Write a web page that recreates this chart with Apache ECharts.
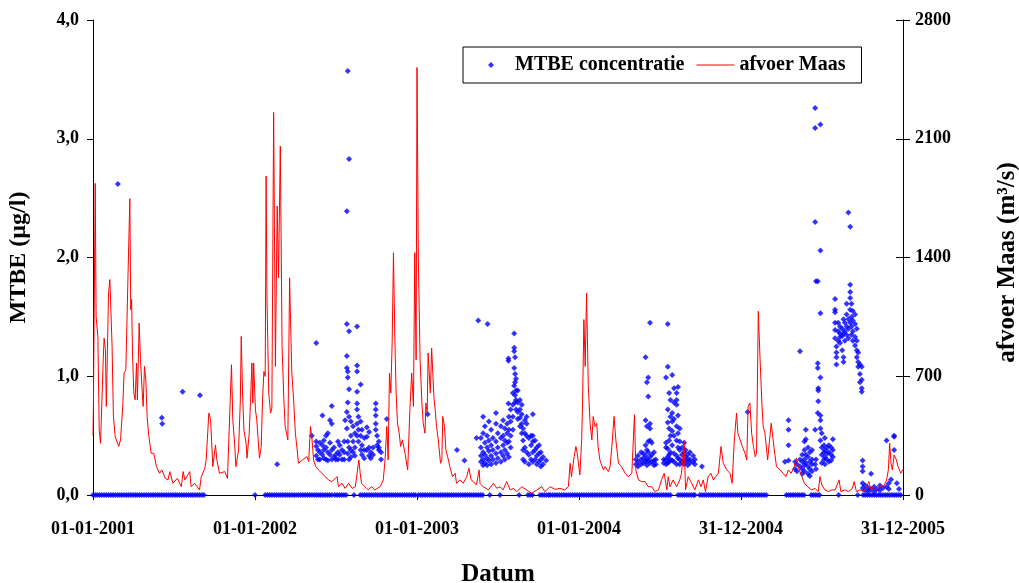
<!DOCTYPE html>
<html>
<head>
<meta charset="utf-8">
<script src="https://cdn.jsdelivr.net/npm/echarts/dist/echarts.min.js"></script>
<style>
  html, body { margin: 0; padding: 0; background: #fff; }
  #chart { width: 1019px; height: 583px; }
</style>
</head>
<body>
<div id="chart"></div>
<script>
// dagen sinds 01-01-2001
const xTickDays = [0, 365, 730, 1095, 1460, 1825]
const mtbeTicks = [0, 1, 2, 3, 4]
const flowTicks = [0, 700, 1400, 2100, 2800]

// afvoer Maas (m3/s)
const flowDays = [0, 1, 5, 7, 11, 14, 17, 23, 25, 28, 30, 35, 38, 43, 46, 50, 58, 62, 67, 70, 74, 79, 83, 85, 87, 89, 92, 95, 98, 100,
  104, 107, 111, 113, 116, 119, 122, 125, 128, 131, 137, 143, 150, 155, 163, 169, 173, 180, 190, 199, 203, 207, 218, 221, 229, 240, 244, 252, 255, 261,
  265, 270, 276, 279, 285, 297, 303, 306, 312, 315, 319, 322, 328, 332, 334, 337, 340, 345, 347, 352, 355, 358, 360, 362, 366, 369, 375, 379, 382, 385,
  388, 390, 392, 396, 400, 403, 407, 411, 415, 418, 422, 426, 430, 433, 439, 443, 445, 448, 452, 456, 460, 463, 472, 482, 486, 490, 493, 497, 502, 508,
  516, 523, 531, 538, 550, 553, 561, 568, 576, 584, 591, 599, 602, 605, 620, 628, 635, 647, 654, 658, 662, 665, 668, 671, 674, 677, 680, 683, 686, 690,
  693, 697, 703, 709, 714, 718, 722, 725, 728, 730, 733, 737, 741, 744, 748, 750, 753, 755, 759, 760, 763, 768, 771, 774, 778, 783, 786, 788, 792, 795,
  799, 804, 810, 816, 819, 827, 834, 842, 847, 852, 857, 864, 870, 872, 879, 891, 902, 910, 917, 924, 932, 940, 947, 955, 966, 977, 988, 1000, 1011, 1018,
  1030, 1041, 1052, 1063, 1071, 1075, 1078, 1084, 1088, 1091, 1097, 1101, 1103, 1106, 1109, 1112, 1116, 1120, 1124, 1127, 1131, 1135, 1138, 1142, 1150, 1154, 1161, 1165, 1169, 1174,
  1178, 1184, 1191, 1199, 1206, 1214, 1220, 1223, 1229, 1236, 1244, 1251, 1259, 1266, 1274, 1281, 1287, 1293, 1296, 1300, 1307, 1315, 1322, 1326, 1332, 1335, 1341, 1349, 1356, 1364,
  1370, 1375, 1380, 1386, 1392, 1398, 1403, 1409, 1415, 1420, 1428, 1435, 1440, 1445, 1450, 1453, 1458, 1463, 1469, 1473, 1476, 1480, 1484, 1488, 1492, 1495, 1499, 1503, 1507, 1510,
  1514, 1520, 1528, 1531, 1535, 1540, 1548, 1555, 1561, 1567, 1573, 1580, 1585, 1589, 1597, 1603, 1610, 1619, 1627, 1634, 1638, 1642, 1649, 1657, 1664, 1672, 1681, 1685, 1694, 1702,
  1711, 1715, 1720, 1728, 1736, 1743, 1748, 1753, 1758, 1766, 1773, 1781, 1788, 1792, 1795, 1798, 1801, 1805, 1810, 1814, 1820, 1825]
const flowValues = [350, 543, 1837, 1053, 935, 384, 305, 797, 925, 857, 522, 1191, 1270, 876, 463, 344, 286, 325, 522, 719, 738, 1309, 1747, 1093, 1152, 837, 601, 561, 778, 561,
  1014, 797, 601, 522, 758, 679, 463, 364, 305, 246, 246, 167, 128, 148, 98, 89, 138, 69, 98, 49, 138, 89, 138, 49, 69, 30, 108, 158, 207, 483,
  443, 167, 295, 207, 128, 138, 98, 89, 768, 443, 305, 167, 266, 561, 935, 601, 384, 305, 217, 364, 561, 778, 542, 778, 502, 443, 217, 286, 561, 728,
  699, 1880, 1152, 601, 483, 512, 2255, 758, 1703, 1280, 2057, 876, 561, 404, 325, 1280, 1034, 719, 561, 364, 266, 187, 207, 226, 197, 404, 344, 207, 167, 148,
  128, 108, 89, 79, 108, 49, 69, 39, 69, 39, 49, 207, 128, 69, 30, 49, 30, 49, 89, 207, 404, 207, 719, 601, 896, 1428, 935, 601, 423, 364,
  286, 325, 246, 148, 502, 719, 522, 1428, 797, 2520, 1388, 797, 542, 423, 364, 542, 483, 837, 837, 601, 866, 581, 502, 404, 325, 187, 207, 463, 404, 266,
  226, 167, 108, 128, 69, 89, 69, 108, 158, 89, 79, 59, 148, 69, 49, 30, 69, 39, 49, 30, 79, 30, 39, 20, 49, 30, 10, 30, 49, 20,
  49, 33, 39, 30, 49, 187, 108, 226, 286, 246, 118, 325, 542, 1034, 758, 1191, 640, 423, 325, 463, 404, 423, 286, 207, 148, 167, 138, 167, 286, 463,
  325, 187, 167, 128, 108, 128, 473, 148, 89, 79, 79, 49, 49, 20, 30, 89, 128, 30, 108, 49, 89, 49, 89, 128, 315, 30, 108, 69, 30, 89,
  49, 89, 20, 108, 128, 89, 108, 128, 286, 187, 148, 128, 69, 325, 483, 364, 325, 286, 246, 207, 522, 542, 364, 286, 226, 246, 1083, 797, 542, 404,
  364, 207, 423, 423, 266, 167, 148, 128, 108, 148, 128, 167, 217, 167, 108, 69, 49, 30, 39, 20, 108, 59, 30, 20, 30, 30, 89, 20, 30, 20,
  39, 79, 20, 30, 20, 49, 79, 30, 49, 30, 59, 49, 89, 148, 305, 187, 148, 236, 207, 167, 128, 150]

// MTBE (ug/l), metingen boven nul
const mtbeDays = [56, 155, 156, 202, 241, 415, 493,
  503, 503, 503, 503, 507, 507, 511, 511, 511, 517, 517, 517, 520, 520, 520, 525, 525, 525, 529, 529, 529, 534, 534, 534,
  538, 538, 538, 538, 543, 543, 547, 547, 552, 552, 552, 556, 556, 561, 561, 566, 566, 566, 568,
  572, 572, 572, 572, 572, 572, 574, 574, 574, 574, 574, 574, 577, 577, 577, 577, 577, 577,
  581, 581, 581, 581, 586, 586, 586, 590, 590, 590, 595, 595, 595, 595, 595, 595, 595, 595, 598, 598, 598,
  603, 603, 603, 603, 606, 606, 606, 611, 611, 611, 617, 617, 617, 622, 622, 622, 626, 626, 631, 631,
  637, 637, 637, 637, 637, 640, 640, 644, 644, 644, 649, 649, 662, 754, 820, 837, 864, 868,
  874, 874, 874, 874, 879, 879, 879, 879, 879, 883, 883, 883, 883, 888, 888, 888, 888, 889, 892, 892, 892, 892,
  897, 897, 897, 897, 901, 901, 901, 908, 908, 908, 908, 908, 912, 912, 912, 919, 919, 919, 919, 924, 924, 924, 924,
  928, 928, 928, 928, 933, 933, 933, 933, 936, 936, 936, 937, 937, 937, 937, 941, 941, 941, 941, 946, 946, 946, 946,
  949, 949, 949, 949, 949, 951, 951, 951, 951, 951, 953, 953, 953, 953, 957, 957, 957, 957, 962, 962, 962, 962,
  966, 966, 966, 966, 969, 969, 969, 969, 973, 973, 973, 973, 977, 977, 977, 977, 982, 982, 982, 987, 987, 987,
  991, 991, 991, 991, 991, 996, 996, 996, 1000, 1000, 1000, 1005, 1005, 1005, 1009, 1009, 1009, 1014, 1014, 1021,
  1223, 1223, 1228, 1228, 1228, 1235, 1235, 1235, 1240, 1240, 1240, 1245, 1245, 1245, 1245, 1245,
  1248, 1248, 1248, 1248, 1248, 1251, 1251, 1251, 1251, 1251, 1255, 1255, 1255, 1255, 1255, 1255,
  1259, 1259, 1259, 1264, 1264, 1264, 1268, 1268, 1286, 1286, 1291, 1291, 1291, 1291, 1291,
  1295, 1295, 1295, 1295, 1295, 1295, 1295, 1298, 1298, 1298, 1298, 1298, 1301, 1301, 1301, 1301, 1301,
  1305, 1305, 1305, 1305, 1305, 1305, 1309, 1309, 1309, 1309, 1309, 1309, 1315, 1315, 1315, 1315, 1315, 1315, 1315,
  1318, 1318, 1318, 1318, 1318, 1322, 1322, 1322, 1322, 1322, 1327, 1327, 1327, 1332, 1332, 1332, 1332,
  1335, 1335, 1335, 1340, 1340, 1340, 1345, 1345, 1345, 1352, 1352, 1356, 1356, 1372, 1475,
  1559, 1567, 1567, 1567, 1567, 1582, 1582, 1586, 1586, 1593, 1593, 1593, 1598, 1598, 1598, 1598,
  1603, 1603, 1603, 1603, 1603, 1606, 1606, 1606, 1606, 1611, 1611, 1611, 1611, 1615, 1615, 1615, 1615,
  1620, 1620, 1620, 1620, 1627, 1627, 1627, 1627, 1627, 1629, 1629, 1629, 1633, 1633, 1633, 1633, 1634, 1634, 1634,
  1639, 1639, 1639, 1639, 1639, 1639, 1639, 1639, 1642, 1642, 1642, 1642, 1647, 1647, 1647, 1649, 1649, 1649, 1649,
  1654, 1654, 1654, 1658, 1658, 1658, 1663, 1663, 1663, 1667, 1667, 1667,
  1672, 1672, 1672, 1672, 1672, 1672, 1675, 1675, 1675, 1675, 1679, 1679, 1679, 1683, 1683, 1683, 1683, 1688, 1688, 1688,
  1691, 1691, 1691, 1691, 1694, 1694, 1694, 1698, 1698, 1698, 1698, 1702, 1702, 1702, 1702, 1706, 1706, 1706, 1706, 1706, 1706,
  1709, 1709, 1709, 1709, 1712, 1712, 1712, 1712, 1717, 1717, 1717, 1717, 1721, 1721, 1721, 1721, 1724, 1724, 1724,
  1728, 1728, 1728, 1732, 1732, 1732, 1732, 1734, 1734, 1734, 1734, 1734, 1740, 1740, 1747, 1747, 1753, 1753, 1760, 1760,
  1766, 1773, 1773, 1780, 1788, 1788, 1793, 1793, 1798, 1805, 1805, 1805, 1811, 1816]
const mtbeValues = [2.62, 0.65, 0.60, 0.87, 0.84, 0.26, 0.50,
  1.28, 0.45, 0.41, 0.33, 0.38, 0.30, 0.44, 0.36, 0.30, 0.67, 0.42, 0.34, 0.46, 0.38, 0.31, 0.50, 0.40, 0.30, 0.52, 0.36, 0.29, 0.63, 0.44, 0.34,
  0.75, 0.60, 0.38, 0.30, 0.40, 0.32, 0.34, 0.30, 0.45, 0.36, 0.30, 0.42, 0.34, 0.38, 0.30, 0.45, 0.36, 0.30, 0.63,
  2.39, 1.44, 1.17, 1.07, 0.70, 0.56, 3.57, 1.04, 0.99, 0.78, 0.45, 0.35, 2.83, 1.38, 0.89, 0.66, 0.40, 0.30,
  0.62, 0.50, 0.38, 0.32, 0.58, 0.45, 0.36, 0.52, 0.40, 0.33, 1.42, 1.09, 1.04, 0.87, 0.77, 0.72, 0.60, 0.50, 0.66, 0.55, 0.45,
  0.93, 0.62, 0.50, 0.38, 0.55, 0.42, 0.34, 0.48, 0.38, 0.31, 0.57, 0.49, 0.38, 0.53, 0.40, 0.33, 0.36, 0.31, 0.40, 0.34,
  0.77, 0.72, 0.67, 0.60, 0.55, 0.50, 0.42, 0.45, 0.40, 0.38, 0.36, 0.30, 0.64, 0.68, 0.38, 0.29, 0.48, 1.47,
  0.48, 0.40, 0.33, 0.28, 0.66, 0.52, 0.36, 0.30, 0.25, 0.58, 0.44, 0.34, 0.27, 0.50, 0.40, 0.31, 0.25, 1.44, 0.62, 0.46, 0.37, 0.29,
  0.55, 0.42, 0.33, 0.26, 0.48, 0.38, 0.30, 0.69, 0.60, 0.45, 0.35, 0.27, 0.52, 0.40, 0.31, 0.58, 0.48, 0.36, 0.28, 0.63, 0.50, 0.42, 0.33,
  0.56, 0.46, 0.38, 0.30, 0.60, 0.52, 0.44, 0.35, 1.15, 1.13, 0.77, 0.66, 0.55, 0.45, 0.32, 0.72, 0.62, 0.50, 0.40, 0.86, 0.76, 0.66, 0.55,
  1.36, 1.24, 1.21, 1.07, 0.92, 1.16, 1.02, 0.95, 0.84, 0.78, 0.98, 0.88, 0.80, 0.72, 0.88, 0.78, 0.70, 0.64, 0.80, 0.72, 0.65, 0.58,
  0.76, 0.68, 0.60, 0.52, 0.56, 0.46, 0.38, 0.30, 0.63, 0.52, 0.40, 0.28, 0.66, 0.60, 0.50, 0.36, 0.48, 0.34, 0.26, 0.50, 0.42, 0.30,
  0.68, 0.50, 0.45, 0.36, 0.28, 0.46, 0.38, 0.30, 0.40, 0.33, 0.26, 0.42, 0.35, 0.28, 0.36, 0.30, 0.24, 0.32, 0.26, 0.29,
  0.30, 0.26, 0.33, 0.28, 0.24, 0.36, 0.30, 0.26, 0.35, 0.31, 0.27, 1.16, 0.63, 0.42, 0.33, 0.28,
  0.95, 0.58, 0.38, 0.30, 0.25, 0.99, 0.83, 0.45, 0.36, 0.29, 1.45, 0.60, 0.56, 0.46, 0.32, 0.27,
  0.44, 0.34, 0.28, 0.36, 0.29, 0.25, 0.30, 0.26, 0.30, 0.27, 0.99, 0.44, 0.40, 0.30, 0.26,
  1.44, 1.08, 0.72, 0.61, 0.39, 0.32, 0.27, 0.86, 0.56, 0.46, 0.34, 0.28, 0.80, 0.66, 0.50, 0.36, 0.30,
  1.01, 0.69, 0.62, 0.54, 0.42, 0.29, 0.90, 0.78, 0.64, 0.50, 0.35, 0.28, 0.86, 0.80, 0.76, 0.58, 0.46, 0.33, 0.26,
  0.91, 0.67, 0.52, 0.40, 0.31, 0.56, 0.45, 0.38, 0.30, 0.26, 0.40, 0.34, 0.28, 0.44, 0.36, 0.30, 0.26,
  0.38, 0.32, 0.28, 0.34, 0.30, 0.25, 0.36, 0.30, 0.27, 0.33, 0.28, 0.30, 0.26, 0.24, 0.70,
  0.28, 0.63, 0.55, 0.42, 0.29, 0.28, 0.22, 0.26, 0.20, 1.21, 0.30, 0.24, 0.34, 0.28, 0.22, 0.18,
  0.45, 0.38, 0.30, 0.25, 0.20, 0.55, 0.47, 0.34, 0.27, 0.40, 0.32, 0.24, 0.18, 0.36, 0.28, 0.22, 0.16,
  0.38, 0.30, 0.26, 0.20, 3.26, 3.09, 2.30, 0.55, 0.26, 1.80, 0.30, 0.22, 1.80, 1.11, 1.07, 0.69, 0.90, 0.88, 0.79,
  3.12, 2.06, 1.53, 0.99, 0.67, 0.63, 0.56, 0.46, 0.52, 0.40, 0.34, 0.27, 0.42, 0.36, 0.30, 0.48, 0.38, 0.32, 0.26,
  0.40, 0.35, 0.30, 0.42, 0.36, 0.28, 0.40, 0.34, 0.29, 0.47, 0.38, 0.32,
  1.65, 1.56, 1.54, 1.45, 1.39, 1.32, 1.25, 1.16, 1.10, 1.20, 1.45, 1.38, 1.30, 1.42, 1.36, 1.28, 1.33, 1.40, 1.34, 1.22,
  1.48, 1.36, 1.16, 1.12, 1.45, 1.38, 1.30, 1.61, 1.52, 1.42, 1.35, 2.38, 1.48, 1.40, 1.32, 2.26, 1.77, 1.71, 1.66, 1.56, 1.45,
  1.61, 1.50, 1.42, 1.35, 1.55, 1.47, 1.38, 1.30, 1.52, 1.44, 1.33, 1.26, 1.40, 1.30, 1.22, 1.16, 1.12, 1.08, 1.20,
  1.10, 1.02, 0.95, 1.08, 0.97, 0.90, 0.87, 0.29, 0.24, 0.20, 0.10, 0.06, 0.08, 0.04, 0.06, 0.03, 0.18, 0.05, 0.07, 0.03,
  0.05, 0.08, 0.04, 0.06, 0.46, 0.07, 0.10, 0.05, 0.13, 0.50, 0.49, 0.38, 0.10, 0.05]

// MTBE metingen gelijk aan 0,0
const mtbeZeroDays = [0, 5, 10, 15, 20, 25, 30, 35, 40, 45, 50, 55, 60, 65, 70, 75, 80, 85, 90, 95, 100, 105, 110, 115, 120,
  125, 130, 135, 140, 145, 150, 155, 160, 165, 170, 175, 180, 185, 190, 195, 200, 205, 210, 215, 220, 225, 230, 235, 240, 245, 250,
  365, 388, 393, 398, 403, 408, 413, 418, 423, 428, 433, 438, 443, 448, 453, 458, 463, 468, 473, 478, 483, 488, 493, 498, 503, 508,
  513, 518, 523, 528, 533, 538, 545, 550, 555, 560, 565, 570, 588,
  602, 607, 612, 617, 622, 627, 632, 637, 642, 647, 652, 657, 662, 667, 672, 677, 682, 687, 692, 697, 702, 707, 712, 717, 722, 726,
  733, 738, 743, 748, 753, 758, 763, 768, 773, 778, 783, 788, 793, 798, 803, 808, 813, 818, 823, 828, 833, 838, 843, 848, 853, 858,
  863, 868, 873, 878, 894, 917, 960, 980, 985, 990, 1007, 1012, 1017, 1022, 1027, 1030,
  1036, 1041, 1046, 1051, 1056, 1061, 1066, 1071, 1076, 1081, 1086, 1091, 1096, 1101, 1106, 1111, 1116, 1121, 1126, 1131, 1136, 1141,
  1146, 1151, 1156, 1161, 1166, 1171, 1176, 1181, 1186, 1191, 1196, 1201, 1206, 1211, 1216, 1221, 1226, 1231, 1236, 1241, 1246, 1251,
  1256, 1261, 1266, 1271, 1276, 1281, 1286, 1291, 1296, 1301, 1318, 1323, 1328, 1333, 1338, 1343, 1348, 1353, 1356,
  1367, 1372, 1377, 1382, 1387, 1392, 1397, 1402, 1407, 1412, 1417, 1422, 1427, 1432, 1437, 1442, 1447, 1452, 1457, 1462, 1467, 1472,
  1477, 1482, 1487, 1492, 1497, 1502, 1507, 1512, 1517, 1562, 1567, 1572, 1577, 1582, 1587, 1592, 1597, 1602,
  1618, 1623, 1628, 1633, 1637, 1680, 1723, 1735, 1740, 1745, 1750, 1755, 1760, 1765, 1770, 1775, 1780, 1785, 1790, 1795, 1800,
  1805, 1810, 1815, 1820]

const font = 'Liberation Serif'
const startUTC = Date.UTC(2001, 0, 1)
const diamond = 'path://M0,-1 L1,0 L0,1 L-1,0 Z'
const legendLine = 'path://M0,0 L38,0 L38,1.2 L0,1.2 Z'

function dayLabel(v) {
  const d = new Date(startUTC + v * 86400000)
  const pad = n => (n < 10 ? '0' : '') + n
  return pad(d.getUTCDate()) + '-' + pad(d.getUTCMonth() + 1) + '-' + d.getUTCFullYear()
}

const mtbeData = mtbeZeroDays.map(d => [d, 0]).concat(mtbeDays.map((d, i) => [d, mtbeValues[i]]))
const flowData = flowDays.map((d, i) => [d, flowValues[i]])

const myChart = echarts.init(document.getElementById('chart'))
const option = {
  animation: false,
  backgroundColor: '#fff',
  textStyle: { fontFamily: font, fontWeight: 'bold', color: '#000' },
  grid: { left: 93, right: 116, top: 20, bottom: 88, containLabel: false, outerBoundsMode: 'none' },
  legend: {
    left: 463,
    top: 47,
    padding: [8, 16, 8, 25],
    borderColor: '#000',
    borderWidth: 1,
    itemGap: 12,
    itemWidth: 38,
    itemHeight: 6,
    textStyle: { fontFamily: font, fontWeight: 'bold', fontSize: 20, color: '#000' },
    data: [
      { name: 'MTBE concentratie' },
      { name: 'afvoer Maas', icon: legendLine }
    ]
  },
  xAxis: {
    type: 'value',
    min: xTickDays[0],
    max: xTickDays[xTickDays.length - 1],
    interval: 365,
    name: 'Datum',
    nameLocation: 'middle',
    nameGap: 67,
    nameTextStyle: { fontFamily: font, fontWeight: 'bold', fontSize: 25, color: '#000' },
    axisLine: { lineStyle: { color: '#000', width: 1 } },
    axisTick: { length: 5, lineStyle: { color: '#000' } },
    axisLabel: { margin: 25, fontSize: 18, fontWeight: 'bold', fontFamily: font, color: '#000', formatter: dayLabel },
    splitLine: { show: false }
  },
  yAxis: [
    {
      type: 'value',
      position: 'left',
      min: mtbeTicks[0],
      max: mtbeTicks[mtbeTicks.length - 1],
      interval: 1,
      name: 'MTBE (µg/l)',
      nameLocation: 'middle',
      nameGap: 62,
      nameTextStyle: { fontFamily: font, fontWeight: 'bold', fontSize: 24, color: '#000' },
      axisLine: { show: true, lineStyle: { color: '#000' } },
      axisTick: { show: true, length: 6, lineStyle: { color: '#000' } },
      axisLabel: { margin: 14, fontSize: 18, fontWeight: 'bold', fontFamily: font, color: '#000',
        formatter: v => v.toFixed(1).replace('.', ',') },
      splitLine: { show: false }
    },
    {
      type: 'value',
      position: 'right',
      min: flowTicks[0],
      max: flowTicks[flowTicks.length - 1],
      interval: 700,
      name: 'afvoer Maas (m³/s)',
      nameLocation: 'middle',
      nameRotate: 90,
      nameGap: 92,
      nameTextStyle: { fontFamily: font, fontWeight: 'bold', fontSize: 25, color: '#000', padding: [0, 10, 0, 0] },
      axisLine: { show: true, lineStyle: { color: '#000' } },
      axisTick: { show: true, length: 7, lineStyle: { color: '#000' } },
      axisLabel: { margin: 12, fontSize: 18, fontWeight: 'bold', fontFamily: font, color: '#000',
        formatter: v => String(v) },
      splitLine: { show: false }
    },
    {
      // binnenste helft van de kruisende ticks rechts
      type: 'value',
      position: 'right',
      min: flowTicks[0],
      max: flowTicks[flowTicks.length - 1],
      interval: 700,
      axisLine: { show: false },
      axisTick: { show: true, inside: true, length: 7, lineStyle: { color: '#000' } },
      axisLabel: { show: false },
      splitLine: { show: false }
    }
  ],
  series: [
    {
      name: 'MTBE concentratie',
      type: 'scatter',
      yAxisIndex: 0,
      symbol: diamond,
      symbolSize: 6,
      symbolKeepAspect: true,
      itemStyle: { color: '#0000ff' },
      data: mtbeData,
      z: 2
    },
    {
      name: 'afvoer Maas',
      type: 'line',
      yAxisIndex: 1,
      showSymbol: false,
      symbol: 'none',
      symbolKeepAspect: true,
      lineStyle: { color: '#ff0000', width: 1 },
      itemStyle: { color: '#ff0000' },
      data: flowData,
      z: 3
    }
  ]
}
myChart.setOption(option)
</script>
</body>
</html>
